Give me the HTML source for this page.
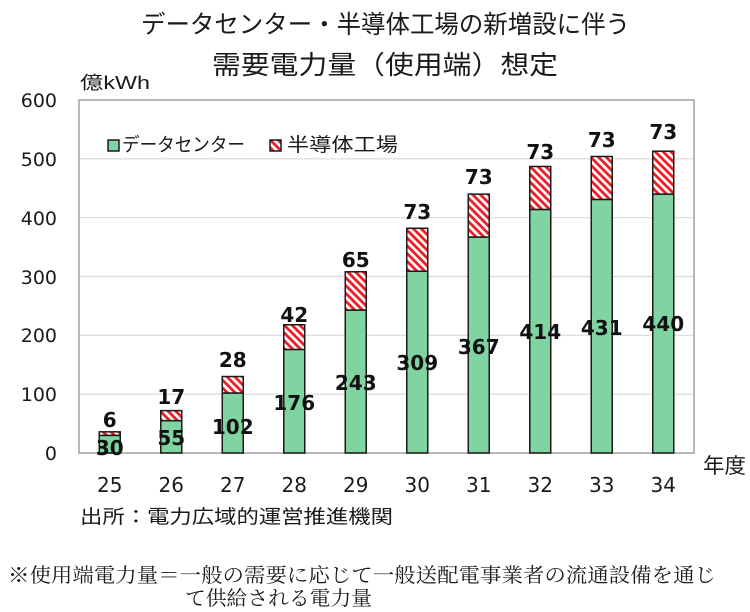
<!DOCTYPE html>
<html>
<head>
<meta charset="utf-8">
<style>
html,body{margin:0;padding:0;background:#fff;}
svg{display:block;}
.jp{font-family:"Liberation Sans","Noto Sans CJK JP",sans-serif;fill:#1a1a1a;}
.num{font-family:"DejaVu Sans","Liberation Sans",sans-serif;fill:#1a1a1a;}
.lab{font-family:"DejaVu Sans","Liberation Sans",sans-serif;font-weight:bold;fill:#111;font-size:20px;text-anchor:middle;}
.serif{font-family:"Liberation Serif","Noto Serif CJK SC",serif;fill:#1a1a1a;}
</style>
</head>
<body>
<svg width="750" height="612" viewBox="0 0 750 612" xmlns="http://www.w3.org/2000/svg">
<defs>
<pattern id="hatch" patternUnits="userSpaceOnUse" width="5.5" height="5.5" patternTransform="rotate(45)">
<rect x="0" y="0" width="5.5" height="5.5" fill="#ffffff"/>
<rect x="0" y="0" width="5.5" height="2.8" fill="#ee1c25"/>
</pattern>
</defs>
<rect width="750" height="612" fill="#fff"/>

<!-- Title -->
<text class="jp" x="141" y="33" font-size="25" textLength="489" lengthAdjust="spacingAndGlyphs">データセンター・半導体工場の新増設に伴う</text>
<text class="jp" x="212" y="74" font-size="26" textLength="346" lengthAdjust="spacingAndGlyphs">需要電力量（使用端）想定</text>

<!-- unit -->
<text class="jp" x="80" y="89" font-size="18" textLength="70" lengthAdjust="spacingAndGlyphs">億kWh</text>

<!-- gridlines -->
<g stroke="#d9d9d9" stroke-width="1.2">
<line x1="79" y1="394.17" x2="694" y2="394.17"/>
<line x1="79" y1="335.33" x2="694" y2="335.33"/>
<line x1="79" y1="276.5" x2="694" y2="276.5"/>
<line x1="79" y1="217.67" x2="694" y2="217.67"/>
<line x1="79" y1="158.83" x2="694" y2="158.83"/>
</g>
<rect x="79" y="100" width="615" height="353" fill="none" stroke="#a6a6a6" stroke-width="1.6"/>

<!-- y tick labels -->
<g class="num" font-size="19" text-anchor="end">
<text x="57" y="460">0</text>
<text x="57" y="401">100</text>
<text x="57" y="342">200</text>
<text x="57" y="284">300</text>
<text x="57" y="225">400</text>
<text x="57" y="166">500</text>
<text x="57" y="107">600</text>
</g>

<!-- legend -->
<rect x="108" y="140" width="11" height="11" fill="#7fd4a1" stroke="#1a1a1a" stroke-width="1.5"/>
<text class="jp" x="122" y="151" font-size="19" textLength="123" lengthAdjust="spacingAndGlyphs">データセンター</text>
<rect x="270" y="140" width="11" height="11" fill="url(#hatch)" stroke="#1a1a1a" stroke-width="1.5"/>
<text class="jp" x="287" y="151" font-size="19" textLength="111" lengthAdjust="spacingAndGlyphs">半導体工場</text>

<!-- bars -->
<g stroke="#1a1a1a" stroke-width="1.5">
<rect x="99.25" y="435.35" width="21" height="17.65" fill="#7fd4a1"/>
<rect x="99.25" y="431.82" width="21" height="3.53" fill="url(#hatch)"/>

<rect x="160.75" y="420.64" width="21" height="32.36" fill="#7fd4a1"/>
<rect x="160.75" y="410.64" width="21" height="10.0" fill="url(#hatch)"/>

<rect x="222.25" y="392.99" width="21" height="60.01" fill="#7fd4a1"/>
<rect x="222.25" y="376.52" width="21" height="16.47" fill="url(#hatch)"/>

<rect x="283.75" y="349.45" width="21" height="103.55" fill="#7fd4a1"/>
<rect x="283.75" y="324.74" width="21" height="24.71" fill="url(#hatch)"/>

<rect x="345.25" y="310.04" width="21" height="142.96" fill="#7fd4a1"/>
<rect x="345.25" y="271.79" width="21" height="38.25" fill="url(#hatch)"/>

<rect x="406.75" y="271.21" width="21" height="181.79" fill="#7fd4a1"/>
<rect x="406.75" y="228.26" width="21" height="42.95" fill="url(#hatch)"/>

<rect x="468.25" y="237.08" width="21" height="215.92" fill="#7fd4a1"/>
<rect x="468.25" y="194.13" width="21" height="42.95" fill="url(#hatch)"/>

<rect x="529.75" y="209.43" width="21" height="243.57" fill="#7fd4a1"/>
<rect x="529.75" y="166.48" width="21" height="42.95" fill="url(#hatch)"/>

<rect x="591.25" y="199.43" width="21" height="253.57" fill="#7fd4a1"/>
<rect x="591.25" y="156.48" width="21" height="42.95" fill="url(#hatch)"/>

<rect x="652.75" y="194.13" width="21" height="258.87" fill="#7fd4a1"/>
<rect x="652.75" y="151.19" width="21" height="42.95" fill="url(#hatch)"/>
</g>

<!-- data center labels -->
<text class="lab" x="109.75" y="455">30</text>
<text class="lab" x="171.25" y="445">55</text>
<text class="lab" x="232.75" y="434">102</text>
<text class="lab" x="294.25" y="410">176</text>
<text class="lab" x="355.75" y="390">243</text>
<text class="lab" x="417.25" y="370">309</text>
<text class="lab" x="478.75" y="354">367</text>
<text class="lab" x="540.25" y="339">414</text>
<text class="lab" x="601.75" y="335">431</text>
<text class="lab" x="663.25" y="331">440</text>

<!-- semiconductor labels -->
<text class="lab" x="109.75" y="427">6</text>
<text class="lab" x="171.25" y="404">17</text>
<text class="lab" x="232.75" y="367">28</text>
<text class="lab" x="294.25" y="322">42</text>
<text class="lab" x="355.75" y="267">65</text>
<text class="lab" x="417.25" y="219">73</text>
<text class="lab" x="478.75" y="184">73</text>
<text class="lab" x="540.25" y="159">73</text>
<text class="lab" x="601.75" y="147">73</text>
<text class="lab" x="663.25" y="139">73</text>

<!-- x tick labels -->
<g class="num" font-size="20" text-anchor="middle">
<text x="109.75" y="492">25</text>
<text x="171.25" y="492">26</text>
<text x="232.75" y="492">27</text>
<text x="294.25" y="492">28</text>
<text x="355.75" y="492">29</text>
<text x="417.25" y="492">30</text>
<text x="478.75" y="492">31</text>
<text x="540.25" y="492">32</text>
<text x="601.75" y="492">33</text>
<text x="663.25" y="492">34</text>
</g>
<text class="jp" x="703" y="473" font-size="21" textLength="43" lengthAdjust="spacingAndGlyphs">年度</text>

<!-- source -->
<text class="jp" x="80" y="523" font-size="19" textLength="313" lengthAdjust="spacingAndGlyphs">出所：電力広域的運営推進機関</text>

<!-- footnote -->
<text class="serif" x="8" y="582" font-size="20" textLength="708" lengthAdjust="spacingAndGlyphs">※使用端電力量＝一般の需要に応じて一般送配電事業者の流通設備を通じ</text>
<text class="serif" x="185" y="605" font-size="20" textLength="187" lengthAdjust="spacingAndGlyphs">て供給される電力量</text>
</svg>
</body>
</html>
